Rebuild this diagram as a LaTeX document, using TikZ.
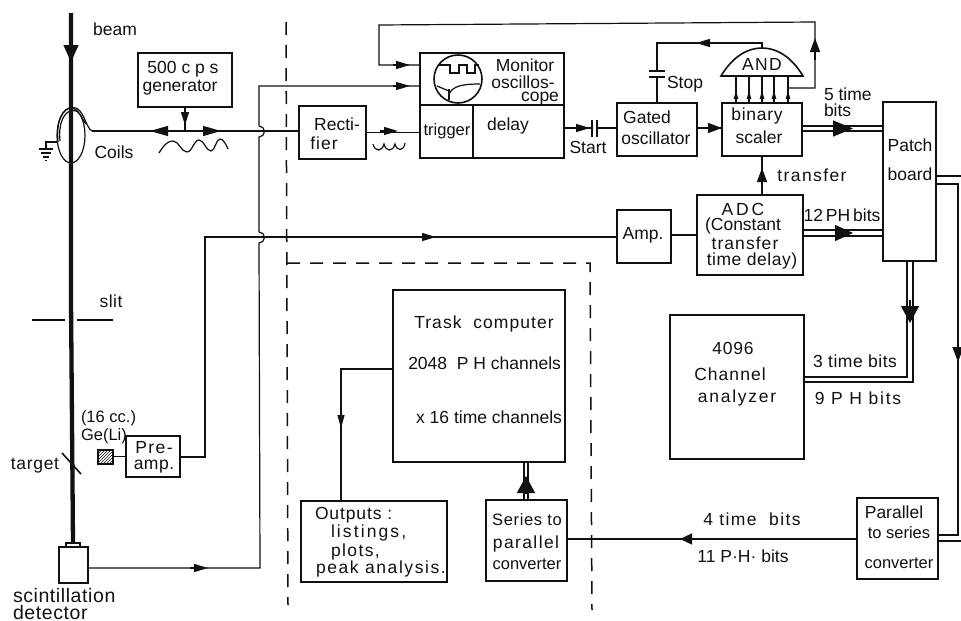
\documentclass[tikz,border=0pt]{standalone}
\usepackage{fontspec}
\setmainfont{Liberation Sans}
\usetikzlibrary{arrows.meta,patterns}
\definecolor{ink}{HTML}{111111}
\newcommand\diag{\fontsize{17.5}{18.5}\selectfont}
\newcommand\tighttx{\fontsize{16.5}{17.5}\selectfont}
\newcommand\bigtx{\fontsize{19.5}{21}\selectfont}
\newcommand\lsp[1]{\addfontfeature{LetterSpace=#1}}
\tikzset{
  x=1pt,y=-1pt,
  box/.style={draw=ink,line width=1.6pt,inner sep=0pt,outer sep=0pt,align=center,font=\diag},
  lab/.style={inner sep=0pt,outer sep=0pt,text=ink,font=\diag,align=center},
  wire/.style={draw=ink,line width=1.2pt},
  heavy/.style={draw=ink,line width=1.6pt},
  beamline/.style={draw=ink,line width=4.3pt},
  dashline/.style={draw=ink,line width=1.5pt,dash pattern=on 13pt off 10pt},
  tipS/.style={wire,-{Triangle[length=14pt,width=8pt]}},
  tipM/.style={wire,-{Triangle[length=14pt,width=10pt]}},
  tipG/.style={wire,-{Triangle[length=18pt,width=10pt]}},
  tipXS/.style={wire,-{Triangle[length=8pt,width=4.5pt]}},
}
\newcommand\bx[7][]{%
  \pgfmathsetmacro\cx{(#3+#5)/2}\pgfmathsetmacro\cy{(#4+#6)/2}%
  \node[box,minimum width={(#5-#3)*1pt},minimum height={(#6-#4)*1pt},#1] (#2) at (\cx,\cy) {#7};}
\begin{document}
\begin{tikzpicture}
\useasboundingbox[fill=white] (0,0) rectangle (961,621);

% boxes
\bx{gen}{138}{53}{232}{107}{}
\bx{rect}{299}{106}{366}{159}{}
\bx{mon}{420}{53}{564}{105}{}
\bx{trig}{420}{105}{473}{158}{}
\bx{del}{473}{105}{564}{158}{}
\bx{gated}{617}{103}{697}{156}{}
\bx{scaler}{722}{103}{802}{156}{}
\bx{adc}{697}{195}{803}{275}{}
\bx{amp}{617}{210}{671}{263}{}
\bx{patch}{883}{102}{936}{261}{}
\bx{ana}{670}{315}{804}{459}{}
\bx{par}{857}{498}{938}{579}{}
\bx{trask}{393}{290}{565}{462}{}
\bx{outp}{301}{501}{447}{582}{}
\bx{ser}{486}{500}{567}{581}{}
\bx{pre}{126}{436}{180}{477}{}
\bx{det}{59}{547}{88}{583}{}
\bx{detcap}{66}{543}{80}{547}{}
\bx[pattern=north east lines,pattern color=ink]{ge}{98}{450}{113}{464}{}

% text labels
\node[lab] (tgen1) at (183,69) {500 c p s};
\node[lab] (tgen2) at (180,88) {generator};
\node[lab] (trec1) at (337,124) {Recti-};
\node[lab] (trec2) at (324,143) {\lsp{6}fier};
\node[lab] (tgat1) at (647,117) {Gated};
\node[lab] (tgat2) at (656,138) {oscillator};
\node[lab] (tsca1) at (757,116) {\lsp{4}binary};
\node[lab] (tsca2) at (759,137) {scaler};
\node[lab] (tadc1) at (743,209) {\lsp{16}ADC};
\node[lab] (tadc2) at (743,226) {(Constant};
\node[lab] (tadc3) at (745,243) {\lsp{6}transfer};
\node[lab] (tadc4) at (752,261) {\lsp{3}time delay)};
\node[lab] (tamp) at (643,235) {Amp.};
\node[lab] (tpre1) at (154,447.5) {\lsp{8}Pre-};
\node[lab] (tpre2) at (154,467) {\lsp{3}amp.};
\node[lab] (tbeam) at (115,29) {beam};
\node[lab] (tcoils) at (114,152) {Coils};
\node[lab] (tslit) at (111,301) {\lsp{3}slit};
\node[lab,anchor=west,font=\tighttx] (t16) at (81,418) {(16 cc.)};
\node[lab,anchor=west,font=\tighttx] (tge) at (81,436) {Ge(Li)};
\node[lab] (ttarget) at (35,466) {\lsp{4}target};
\node[lab,anchor=west,font=\bigtx] (tsci) at (13,596) {\lsp{3}scintillation};
\node[lab,anchor=west,font=\bigtx] (tdet) at (13,612.5) {\lsp{3}detector};
\node[lab] (tmon1) at (525,65) {Monitor};
\node[lab] (tmon2) at (523,82.5) {oscillos-};
\node[lab] (tmon3) at (540,98.5) {cope};
\node[lab,font=\tighttx] (ttrig) at (447,131) {trigger};
\node[lab] (tdel) at (508,126) {delay};
\node[lab] (tstart) at (588,147) {Start};
\node[lab] (tstop) at (685,84) {Stop};
\node[lab] (tand) at (762,64) {\lsp{8}AND};
\node[lab,anchor=west] (t5a) at (824,94) {5 time};
\node[lab,anchor=west] (t5b) at (824,110) {bits};
\node[lab] (ttrans) at (812,175) {\lsp{8}transfer};
\node[lab] (t12) at (842,215) {12\,PH\,bits};
\node[lab] (tpa) at (910,145) {Patch};
\node[lab] (tpb) at (910,174) {board};
\node[lab] (tana1) at (733,348) {\lsp{4}4096};
\node[lab] (tana2) at (730,374) {\lsp{6}Channel};
\node[lab] (tana3) at (737,398) {\lsp{10}analyzer};
\node[lab] (t3t) at (855,361) {\lsp{3}3 time  bits};
\node[lab] (t9p) at (858,398) {\lsp{10}9 P H bits};
\node[lab] (tpar1) at (894,512) {Parallel};
\node[lab,font=\tighttx] (tpar2) at (899,533) {to series};
\node[lab,font=\tighttx] (tpar3) at (899,563) {converter};
\node[lab] (t4) at (752,519) {\lsp{8}4 time \ bits};
\node[lab] (t11) at (743,556) {11 P·H· bits};
\node[lab] (ttr1) at (484,324) {\lsp{6}Trask \ computer};
\node[lab,anchor=east] (ttr2) at (561,363) {2048 \ P H channels};
\node[lab,anchor=east] (ttr3) at (562,417) {x 16 time channels};
\node[lab,anchor=west] (tout1) at (315,515) {\lsp{5}Outputs :};
\node[lab,anchor=west] (tout2) at (331,533) {\lsp{12}listings,};
\node[lab,anchor=west] (tout3) at (331,552) {\lsp{8}plots,};
\node[lab,anchor=west] (tout4) at (316,569) {\lsp{9}peak analysis.};
\node[lab,font=\tighttx] (tser1) at (527,520) {\lsp{4}Series to};
\node[lab] (tser2) at (526,544) {\lsp{8}parallel};
\node[lab,font=\tighttx] (tser3) at (527,564) {converter};

% dashed separators
\coordinate (dtop) at (286,22);
\coordinate (dbot) at (288,605);
\coordinate (dbl) at (287,263);
\coordinate (dbr) at (590,263);
\coordinate (dbe) at (592,610);
\draw[dashline] (dtop) -- (dbot);
\draw[dashline] (dbl) -- (dbr) -- (dbe);

% beam
\coordinate (bstart) at (71,13);
\coordinate (btip) at (71,62);
\draw[beamline] (bstart) -- (71,300) -- (73,543);
\draw[wire,-{Triangle[length=17pt,width=15pt]}] (71,30) -- (btip);

% slit
\coordinate (sl1) at (32,320); \coordinate (sl2) at (65,320);
\coordinate (sl3) at (77,320); \coordinate (sl4) at (113,320);
\draw[wire] (sl1) -- (sl2);
\draw[wire] (sl3) -- (sl4);

% target
\coordinate (ta1) at (62,453); \coordinate (ta2) at (81,474);
\draw[heavy] (ta1) -- (ta2);

% coils and ground
\draw[wire] (71,135.5) ellipse [x radius=14,y radius=27.5];
\coordinate (coilout) at (92,131);
\draw[wire] (58,142) .. controls (56,122) and (62,107.5) .. (73,107.5) .. controls (84,107.5) and (85,127) .. (coilout);
\draw[wire] (60,141) .. controls (58,124) and (64,110.5) .. (73,110.5) .. controls (81,110.5) and (82,120) .. (86,124);
\draw[wire] (58,142) -- (46,142) -- (46,148);
\draw[heavy] (39,149) -- (53,149);
\draw[heavy] (41,153) -- (51,153);
\draw[heavy] (43,157) -- (49,157);
\draw[heavy] (45,160.5) -- (47,160.5);

% generator arrows
\coordinate (gj) at (gen.south |- coilout);
\coordinate (gjt) at ([yshift=6pt]gj);
\draw[wire] (gen.south) -- (gj);
\draw[wire,-{Triangle[length=13pt,width=8pt]}] (gen.south) -- (gjt);
\coordinate (gl) at (150,131);
\coordinate (gr) at (221,131);
\draw[tipG] (gj) -- (gl);
\draw[tipG] (gj) -- (gr);
\draw[wire] (coilout) -- (rect.west |- coilout);
\draw[wire] (159,153) .. controls (165,143) and (169,141) .. (173,141) .. controls (179,141) and (181,152) .. (187,152) .. controls (192,152) and (194,140) .. (199,140) .. controls (204,140) and (206,151) .. (211,151) .. controls (215,151) and (216,139) .. (220,139) .. controls (223,139) and (226,144) .. (228,149);

% detector to oscilloscope with hops
\coordinate (hu1) at (259,126); \coordinate (hd1) at (259,137);
\coordinate (hu2) at (259,232); \coordinate (hd2) at (259,243);
\coordinate (dcorner) at (260,568);
\coordinate (mcorner) at (259,86);
\coordinate (datip) at (208,568);
\draw[wire] (det.east |- dcorner) -- (dcorner) -- (hd2)
   arc[start angle=-90,end angle=90,radius=5.5pt] (hu2) -- (hd1)
   arc[start angle=-90,end angle=90,radius=5.5pt] (hu1) -- (mcorner) -- (mon.west |- mcorner);
\draw[tipS] (190,568) -- (datip);
\coordinate (matip) at (410,86);
\draw[tipS] (393,86) -- (matip);

% rectifier to trigger
\draw[wire] (rect.east) -- (rect.east -| trig.west);
\coordinate (rtip) at (398,131);
\draw[tipS] (380,131) -- (rtip);
\draw[wire] (373,144) .. controls (375,152) and (382,152) .. (384,144) .. controls (386,152) and (393,152) .. (395,144) .. controls (397,152) and (404,151) .. (405,143);

% oscilloscope trace
\draw[heavy] (458,79) circle [radius=24];
\draw[wire] (438,65) -- (450,65) -- (450,73) -- (459,73) -- (459,65) -- (467,65) -- (467,73) -- (475,73) -- (475,65) -- (479,65);
\draw[wire] (437,86) -- (449,91);
\draw[wire] (449,89) -- (449,100);
\draw[wire] (449,94) .. controls (453,86) and (462,84) .. (480,84);

% feedback from AND input to monitor
\coordinate (fb0) at (788,88);
\coordinate (fb1) at (815,88);
\coordinate (fb2) at (815,22);
\coordinate (fb3) at (379,25);
\coordinate (fb4) at (379,65);
\coordinate (fbtip) at (815,38);
\draw[wire] (fb0) -- (fb1) -- (fb2) -- (fb3) -- (fb4) -- (mon.west |- fb4);
\draw[tipM] (815,60) -- (fbtip);
\coordinate (fbt2) at (410,65);
\draw[tipS] (393,65) -- (fbt2);

% delay to gated oscillator
\coordinate (st1) at (592,128);
\coordinate (st2) at (597,128);
\coordinate (sttip) at (590,128);
\draw[heavy] (del.east |- st1) -- (st1);
\draw[tipS] (572,128) -- (sttip);
\draw[heavy] (592,120) -- (592,137);
\draw[heavy] (597,120) -- (597,137);
\draw[heavy] (st2) -- (gated.west |- st2);

% gated to scaler
\draw[heavy] (gated.east |- 0,128) -- (scaler.west |- 0,128);
\draw[tipM] (702,128) -- (scaler.west |- 0,128);

% AND gate
\coordinate (andl) at (721,76); \coordinate (andr) at (803,76); \coordinate (andt) at (762,48);
\draw[heavy] (andl) .. controls (733,56) and (748,48) .. (andt) .. controls (776,48) and (791,56) .. (andr) -- cycle;
\foreach \i/\x in {1/736,2/749,3/762,4/774,5/788}{
  \coordinate (ain\i) at (\x,103);
  \coordinate (aitop\i) at (\x,76);
  \coordinate (aimid\i) at (\x,91);
  \draw[wire] (ain\i) -- (aitop\i);
  \draw[tipXS] (ain\i) -- (aimid\i);
}

% AND to gated (stop)
\coordinate (as1) at (762,43);
\coordinate (as2) at (657,43);
\coordinate (as3) at (657,71);
\coordinate (as4) at (657,77);
\coordinate (astip) at (696,43);
\draw[wire] (andt) -- (as1) -- (as2) -- (as3);
\draw[tipS] (720,43) -- (astip);
\draw[heavy] (649,71) -- (665,71);
\draw[heavy] (649,77) -- (665,77);
\draw[wire] (as4) -- (gated.north -| as4);

% scaler to patch board (double)
\draw[wire] (scaler.east |- 0,126) -- (patch.west |- 0,126);
\draw[wire] (scaler.east |- 0,131) -- (patch.west |- 0,131);
\draw[wire,-{Triangle[length=20pt,width=16pt]}] (833,128.5) -- (853,128.5);

% ADC
\draw[wire] (amp.east |- 0,235) -- (adc.west |- 0,235);
\draw[wire] (adc.east |- 0,230) -- (patch.west |- 0,230);
\draw[wire] (adc.east |- 0,236) -- (patch.west |- 0,236);
\draw[wire,-{Triangle[length=18pt,width=16pt]}] (835,233) -- (853,233);
\draw[wire] (adc.north -| scaler.south) -- (scaler.south);
\coordinate (trtip) at (762,168);
\draw[tipM] (762,190) -- (trtip);

% preamp
\draw[wire] (ge.east |- pre.west) -- (pre.west);
\coordinate (pc1) at (205,457);
\coordinate (pc2) at (205,237);
\draw[wire] (pre.east |- pc1) -- (pc1) -- (pc2) -- (amp.west |- pc2);
\coordinate (ptip) at (436,237);
\draw[tipS] (420,237) -- (ptip);

% patch board to analyzer (double)
\coordinate (pa1) at (907,377); \coordinate (pa2) at (913,382);
\draw[wire] (patch.south -| pa1) -- (pa1) -- (ana.east |- pa1);
\draw[wire] (patch.south -| pa2) -- (pa2) -- (ana.east |- pa2);
\draw[wire,-{Triangle[length=17pt,width=18pt]}] (910,300) -- (910,323);

% patch board to parallel-to-series
\coordinate (pe1) at (961,176);
\coordinate (pe2) at (958,184);
\coordinate (pe3) at (958,535);
\coordinate (pe4) at (961,541);
\draw[wire] (patch.east |- pe1) -- (pe1);
\draw[wire] (patch.east |- pe2) -- (pe2) -- (pe3) -- (par.east |- pe3);
\draw[wire] (par.east |- pe4) -- (pe4);
\draw[wire,-{Triangle[length=15pt,width=11pt]}] (958,340) -- (958,362);

% parallel to series -> series to parallel
\coordinate (lk) at (par.west |- 0,539);
\draw[wire] (lk) -- (lk -| ser.east);
\draw[wire,-{Triangle[length=12pt,width=11pt]}] (700,539) -- (680,539);

% series to trask (double)
\coordinate (dl1) at (524,462); \coordinate (dl2) at (528,462);
\draw[wire] (dl1) -- (ser.north -| dl1);
\draw[wire] (dl2) -- (ser.north -| dl2);
\draw[wire,-{Triangle[length=17pt,width=18pt]}] (526,493) -- (526,476);

% trask to outputs
\coordinate (tc) at (341,369);
\draw[wire] (trask.west |- tc) -- (tc) -- (tc |- outp.north);
\draw[wire,-{Triangle[length=13pt,width=7pt]}] (341,405) -- (341,428);
\end{tikzpicture}
\end{document}
